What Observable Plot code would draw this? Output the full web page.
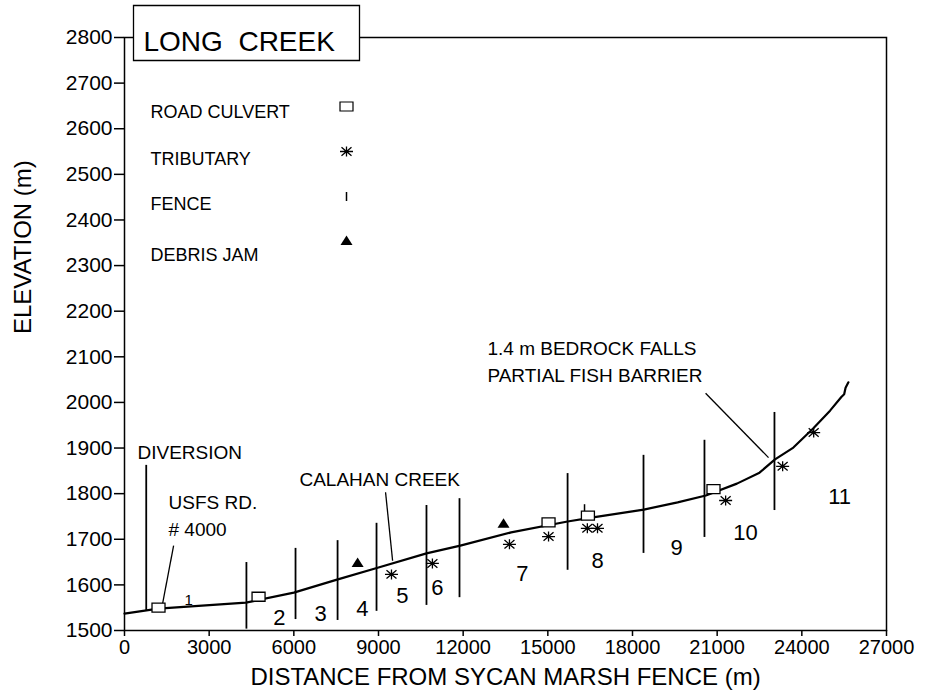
<!DOCTYPE html>
<html>
<head>
<meta charset="utf-8">
<script src="https://cdn.jsdelivr.net/npm/d3@7"></script>
<script src="https://cdn.jsdelivr.net/npm/@observablehq/plot@0.6"></script>
<style>
  html, body { margin: 0; padding: 0; background: #fff; }
  #chart svg text { white-space: pre; }
</style>
</head>
<body>
<div id="chart"></div>
<script>
// ---- data ----
const chartTitle = "LONG  CREEK";
const xTitle = "DISTANCE FROM SYCAN MARSH FENCE (m)";
const yTitle = "ELEVATION (m)";
const xTickValues = [0, 3000, 6000, 9000, 12000, 15000, 18000, 21000, 24000, 27000];
const yTickValues = [1500, 1600, 1700, 1800, 1900, 2000, 2100, 2200, 2300, 2400, 2500, 2600, 2700, 2800];

// stream profile
const profileDist = [0, 1200, 4300, 6000, 7500, 9000, 10700, 11900, 13700, 15700, 16600, 18400, 19600, 20600, 21700, 22500, 23050, 23700, 24400, 25000, 25400, 25500, 25550, 25650];
const profileElev = [1537, 1548, 1561, 1583, 1611, 1638, 1669, 1686, 1715, 1739, 1748, 1765, 1781, 1796, 1822, 1846, 1875, 1901, 1943, 1982, 2012, 2018, 2032, 2044];

// fences (section boundaries)
const fenceDist   = [770, 4320, 6060, 7550, 8930, 10700, 11870, 15700, 18390, 20550, 23030];
const fenceTop    = [1862, 1649, 1680, 1697, 1735, 1774, 1789, 1844, 1884, 1917, 1978];
const fenceBottom = [1544, 1503, 1524, 1522, 1542, 1555, 1572, 1632, 1669, 1704, 1763];

// small fence marker
const fenceMarkDist = [16300];
const fenceMarkElev = [1767];

// road culverts
const culvertDist = [1205, 4750, 15025, 16420, 20870];
const culvertElev = [1550, 1574, 1737, 1752, 1810];

// tributaries
const tribDist = [9460, 10910, 13640, 15025, 16400, 16760, 21300, 23320, 24420];
const tribElev = [1623, 1647, 1689, 1706, 1724, 1724, 1785, 1860, 1934];

// debris jams
const debrisDist = [8260, 13430];
const debrisElev = [1649, 1735];

// section numbers
const sectionNames = ["1", "2", "3", "4", "5", "6", "7", "8", "9", "10", "11"];
const sectionDist  = [2270, 5490, 6945, 8430, 9850, 11090, 14100, 16760, 19560, 22000, 25340];
const sectionElev  = [1566, 1528, 1537, 1548, 1575, 1594, 1625, 1653, 1680, 1713, 1792];

// annotations
const noteText = ["DIVERSION", "USFS RD.\n# 4000", "CALAHAN CREEK", "1.4 m BEDROCK FALLS\nPARTIAL FISH BARRIER"];
const noteDist = [460, 1560, 6200, 12860];
const noteElev = [1895, 1755, 1835, 2094];

// leader lines
const leaderX1 = [1740, 9250, 20590];
const leaderY1 = [1686, 1803, 2020];
const leaderX2 = [1350, 9500, 22820];
const leaderY2 = [1559, 1653, 1879];

// legend
const legendLabels = ["ROAD CULVERT", "TRIBUTARY", "FENCE", "DEBRIS JAM"];

// ---- tables built from arrays ----
const profile = profileDist.map((d, i) => ({d, e: profileElev[i]}));
const fences = fenceDist.map((d, i) => ({d, top: fenceTop[i], bottom: fenceBottom[i]}));
const fenceMarks = fenceMarkDist.map((d, i) => ({d, e: fenceMarkElev[i]}));
const culverts = culvertDist.map((d, i) => ({d, e: culvertElev[i]}));
const tribs = tribDist.map((d, i) => ({d, e: tribElev[i]}));
const debris = debrisDist.map((d, i) => ({d, e: debrisElev[i]}));
const sections = sectionNames.map((s, i) => ({s, d: sectionDist[i], e: sectionElev[i]}));
const notes = noteText.map((t, i) => ({t, d: noteDist[i], e: noteElev[i]}));
const leaders = leaderX1.map((x1, i) => ({x1, y1: leaderY1[i], x2: leaderX2[i], y2: leaderY2[i]}));

// ---- symbols (source figure is horizontally stretched) ----
const culvertSym = {draw(c) { c.rect(-6.5, -4.5, 13, 9); }};
const tribSym = {draw(c) {
  c.moveTo(-6.5, 0); c.lineTo(6.5, 0);
  c.moveTo(0, -5); c.lineTo(0, 5);
  c.moveTo(-5, -4.2); c.lineTo(5, 4.2);
  c.moveTo(-5, 4.2); c.lineTo(5, -4.2);
}};
const fenceSym = {draw(c) { c.moveTo(0, -4.5); c.lineTo(0, 4.5); }};
const debrisSym = {draw(c) { c.moveTo(0, -5); c.lineTo(6, 4.5); c.lineTo(-6, 4.5); c.closePath(); }};
const boxSym = {draw(c) { c.rect(-113, -27.5, 226, 55); }};

const FONT = "Liberation Sans, Arial, Helvetica, sans-serif";

// legend marks (layout relative to the frame's top-left corner)
const legendRowDy = [68, 115, 160, 211];
const legendSymDy = [69, 114, 159, 203];
const legendSyms = [
  {symbol: culvertSym, fill: "white", stroke: "black", strokeWidth: 1.2},
  {symbol: tribSym, fill: "none", stroke: "black", strokeWidth: 1.3},
  {symbol: fenceSym, fill: "none", stroke: "black", strokeWidth: 1.5},
  {symbol: debrisSym, fill: "black", stroke: "none"}
];
const legendMarks = legendLabels.flatMap((lab, i) => [
  Plot.text([lab], {frameAnchor: "top-left", dx: 26, dy: legendRowDy[i], text: d => d, textAnchor: "start", fontSize: 18, fill: "black"}),
  Plot.dot([lab], {frameAnchor: "top-left", dx: 222, dy: legendSymDy[i], r: 5, ...legendSyms[i]})
]);

const chart = Plot.plot({
  width: 928,
  height: 696,
  marginLeft: 124,
  marginRight: 42,
  marginTop: 37,
  marginBottom: 66,
  style: {fontFamily: FONT, background: "white", color: "black", overflow: "visible"},
  x: {domain: [0, 27000]},
  y: {domain: [1500, 2800]},
  marks: [
    Plot.frame({stroke: "black", strokeWidth: 1.5}),
    Plot.axisY({ticks: yTickValues, tickFormat: d => String(d), tickSize: 10, tickPadding: 2, fontSize: 21, label: null, strokeWidth: 1.5}),
    Plot.axisX({ticks: xTickValues, tickFormat: d => String(d), tickSize: 6, tickPadding: 3, fontSize: 20, label: null, strokeWidth: 1.5}),
    Plot.text([xTitle], {frameAnchor: "bottom", dy: 54, text: d => d, fontSize: 24, fill: "black"}),
    Plot.text([yTitle], {frameAnchor: "left", dx: -101, rotate: -90, text: d => d, fontSize: 24, fill: "black"}),
    // fences
    Plot.ruleX(fences, {x: "d", y1: "bottom", y2: "top", stroke: "black", strokeWidth: 1.8}),
    // profile
    Plot.line(profile, {x: "d", y: "e", stroke: "black", strokeWidth: 2.2, curve: "linear"}),
    // leaders
    Plot.link(leaders, {x1: "x1", y1: "y1", x2: "x2", y2: "y2", stroke: "black", strokeWidth: 1.3}),
    // symbols
    Plot.dot(fenceMarks, {x: "d", y: "e", symbol: fenceSym, stroke: "black", strokeWidth: 1.5, r: 5}),
    Plot.dot(culverts, {x: "d", y: "e", symbol: culvertSym, fill: "white", stroke: "black", strokeWidth: 1.3, r: 5}),
    Plot.dot(tribs, {x: "d", y: "e", symbol: tribSym, fill: "none", stroke: "black", strokeWidth: 1.3, r: 5}),
    Plot.dot(debris, {x: "d", y: "e", symbol: debrisSym, fill: "black", stroke: "none", r: 5}),
    // section numbers
    Plot.text(sections.filter(s => s.s !== "1"), {x: "d", y: "e", text: "s", fontSize: 22, fill: "black"}),
    Plot.text(sections.filter(s => s.s === "1"), {x: "d", y: "e", text: "s", fontSize: 15, fill: "black"}),
    // annotations
    Plot.text(notes.slice(0, 3), {x: "d", y: "e", text: "t", textAnchor: "start", fontSize: 19, lineHeight: 1.42, fill: "black"}),
    Plot.text(notes.slice(3), {x: "d", y: "e", text: "t", textAnchor: "start", fontSize: 19, lineHeight: 1.47, fill: "black"}),
    // legend
    ...legendMarks,
    // title box
    Plot.dot([chartTitle], {frameAnchor: "top-left", dx: 122, dy: -4.5, symbol: boxSym, fill: "white", stroke: "black", strokeWidth: 1.3, r: 5}),
    Plot.text([chartTitle], {frameAnchor: "top-left", dx: 19, dy: -6, text: d => d, textAnchor: "start", fontSize: 28, fill: "black"})
  ]
});
document.getElementById("chart").appendChild(chart);
</script>
</body>
</html>
